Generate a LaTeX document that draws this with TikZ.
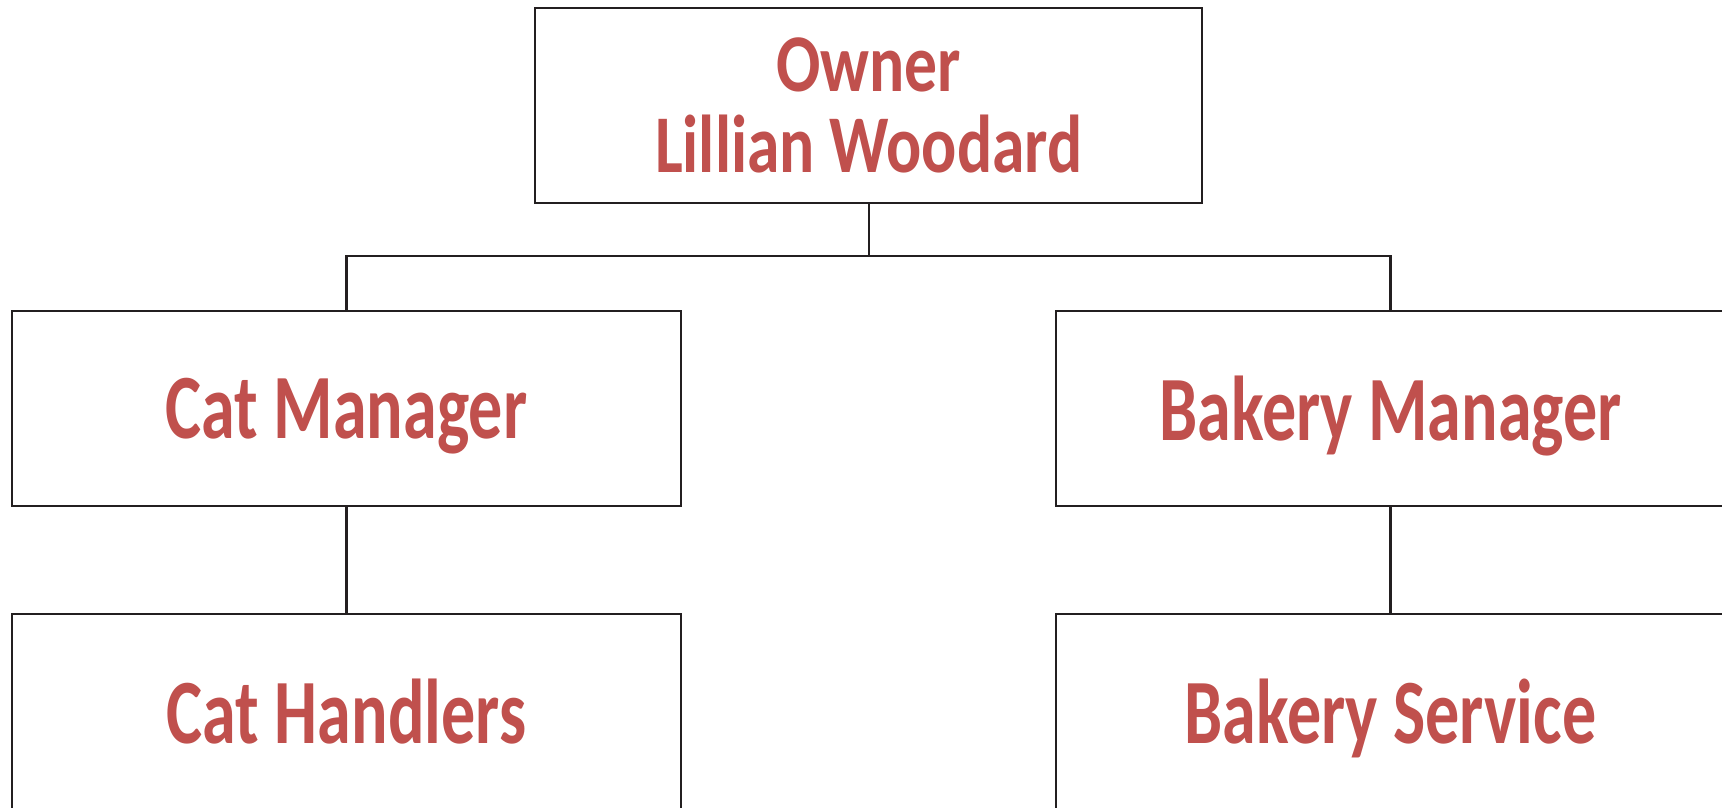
\documentclass[tikz,border=0pt]{standalone}
\usepackage{fontspec}
\newfontfamily\boxfont[FakeStretch=0.8]{Carlito}
\newfontfamily\subfont[FakeStretch=0.74]{Carlito}
\definecolor{txtred}{HTML}{C0504D}
\definecolor{linec}{HTML}{231F20}
\begin{document}
\begin{tikzpicture}[x=1pt,y=-1pt,
  box/.style={draw=linec, line width=2.4pt, fill=white, minimum width=669pt, minimum height=195pt, inner sep=0pt,
    font=\boxfont\bfseries\fontsize{82}{81}\selectfont, text=txtred, align=center},
  subbox/.style={box, font=\subfont\bfseries\fontsize{92}{90}\selectfont, text depth=0pt},
  conn/.style={draw=linec, line width=2.4pt}]
\useasboundingbox[fill=white] (0,0) rectangle (1722,807);
\node[box, minimum width=667pt] (owner) at (868.7,105.5) {Owner\\Lillian Woodard};
\node[subbox] (cm) at (346.5,408.5) {Cat Manager};
\node[subbox] (bm) at (1390.5,408.5) {Bakery Manager};
\node[subbox] (ch) at (346.5,711.5) {Cat Handlers};
\node[subbox] (bs) at (1390.5,711.5) {Bakery Service};
\coordinate (mid) at (868.7,256);
\draw[conn] (owner.south) -- (mid) -| (cm.north);
\draw[conn] (mid) -| (bm.north);
\draw[conn] (cm.south) -- (ch.north);
\draw[conn] (bm.south) -- (bs.north);
\end{tikzpicture}
\end{document}
